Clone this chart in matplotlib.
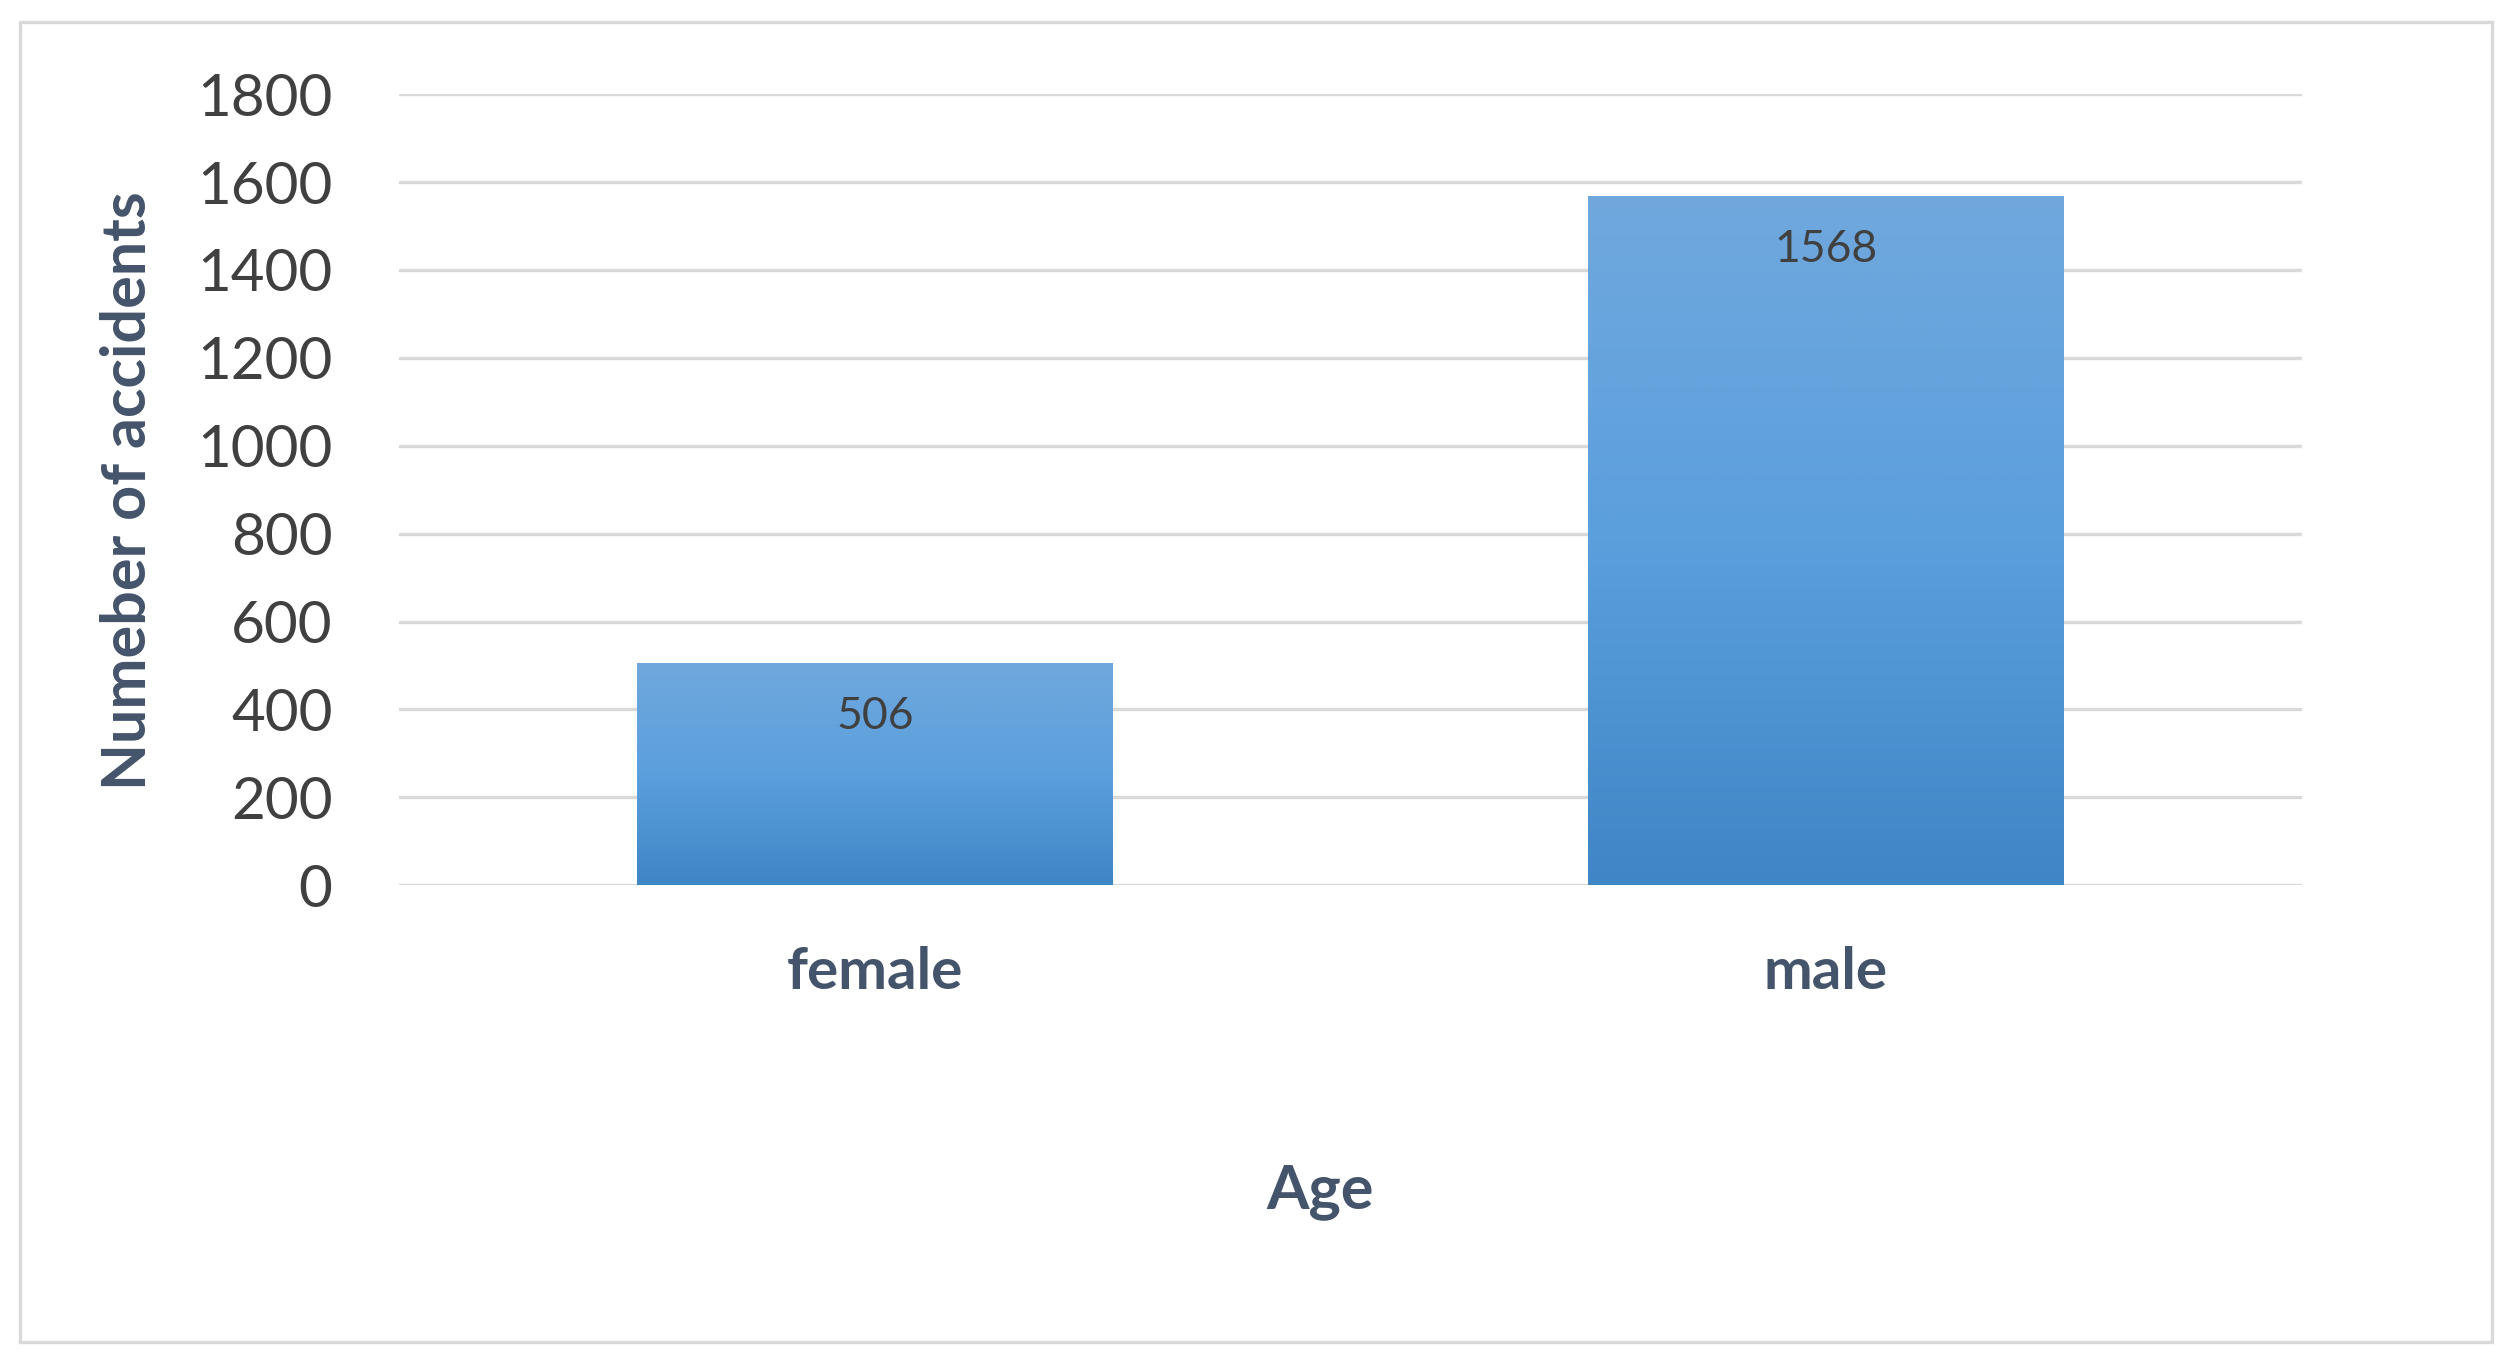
import matplotlib
matplotlib.use('Agg')
import matplotlib.pyplot as plt
import numpy as np
from matplotlib.patches import Rectangle
from matplotlib.colors import LinearSegmentedColormap

categorias = ['female', 'male']
valores = [506, 1568]
yticks = [0, 200, 400, 600, 800, 1000, 1200, 1400, 1600, 1800]

plt.rcParams['font.family'] = ['Lato', 'DejaVu Sans']
TextDark = '#44546A'
TickGray = '#404040'

fig = plt.figure(figsize=(12.55, 6.82), dpi=200)
ax = fig.add_axes([0.159, 0.351, 0.758, 0.580])

x = np.arange(len(categorias))
barras = ax.bar(x, valores, width=0.5, color='none', zorder=3)

# Relleno degradado dentro de cada barra
cmap = LinearSegmentedColormap.from_list('g', ['#3F86C6', '#5B9FDD', '#70A8DD'])
grad = np.linspace(0, 1, 256).reshape(-1, 1)
for b in barras:
    x0, w, h = b.get_x(), b.get_width(), b.get_height()
    im = ax.imshow(grad, cmap=cmap, aspect='auto', origin='lower',
                   extent=[x0, x0 + w, 0, h], zorder=3)
    im.set_clip_path(b)
    ax.text(x0 + w / 2, h - 75, str(h), ha='center', va='top',
            fontsize=16, color=TickGray, zorder=4)

ax.set_xlim(-0.5, 1.5)
ax.set_ylim(0, 1800)
ax.set_yticks(yticks)
ax.tick_params(axis='y', labelsize=21, colors=TickGray, length=0, pad=24)
ax.set_xticks(x)
ax.set_xticklabels(categorias, fontsize=21, fontweight='bold', color=TextDark)
ax.tick_params(axis='x', length=0, pad=22)

ax.grid(axis='y', color='#D9D9D9', linewidth=1.2)
ax.set_axisbelow(True)
for s in ax.spines.values():
    s.set_visible(False)

fig.text(0.051, 0.64, 'Numeber of accidents', rotation=90, ha='center', va='center',
         fontsize=22, fontweight='bold', color=TextDark)
fig.text(0.526, 0.126, 'Age', ha='center', va='center',
         fontsize=22, fontweight='bold', color=TextDark)

# Marco exterior
fig.patches.append(Rectangle((0.008, 0.016), 0.985, 0.968, transform=fig.transFigure,
                             fill=False, edgecolor='#D9D9D9', linewidth=1.2))

fig.savefig('out.png', dpi=200)
